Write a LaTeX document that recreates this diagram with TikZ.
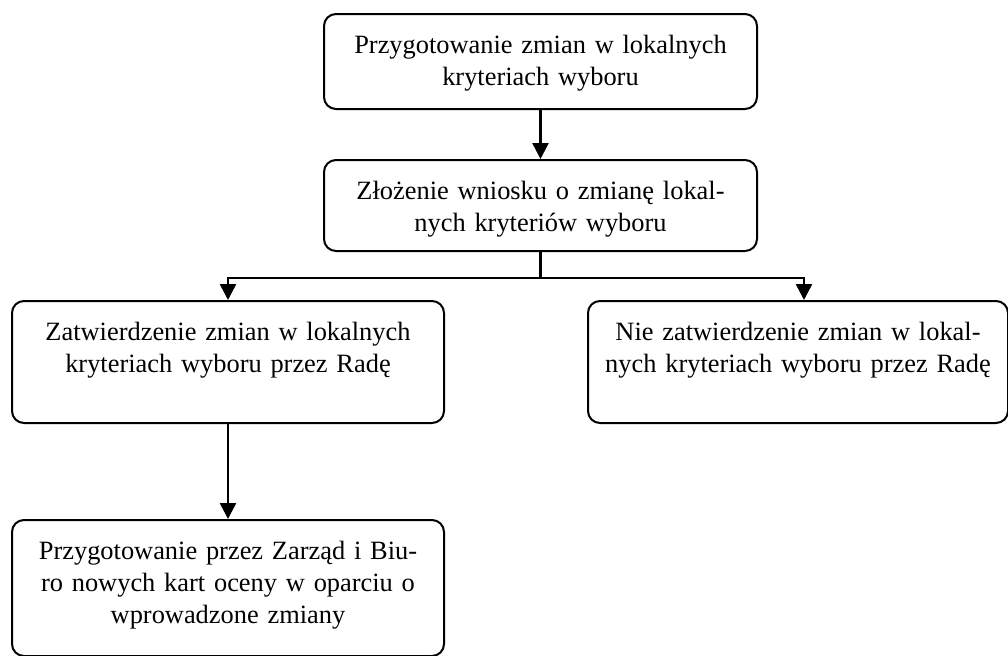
\documentclass[tikz,border=0pt]{standalone}
\usepackage{fontspec}
\setmainfont{Liberation Serif}
\usepackage{tikz}
\usetikzlibrary{arrows.meta, positioning}

\begin{document}
\begin{tikzpicture}[
    x=1pt, y=1pt,
    box/.style={rectangle, draw=black, line width=1pt, rounded corners=6pt, align=center, inner xsep=0pt, inner ysep=0pt, text height=19.5pt, font=\fontsize{13.2}{16}\selectfont},
    arrow/.style={-{Triangle[length=8pt, width=8pt]}, line width=1.25pt, black}
]
\useasboundingbox (0,0) rectangle (504,-327.5);

\node[box, text width=216.5pt, text depth=28pt, anchor=north west] (prep) at (161.5,-6.5) {Przygotowanie zmian w lokalnych\\kryteriach wyboru};
\node[box, text width=216.5pt, text depth=26pt, below=24.5pt of prep] (wniosek) {Złożenie wniosku o zmianę lokal-\\nych kryteriów wyboru};
\node[box, text width=216pt, text depth=41.5pt, anchor=north west] (zatw) at (5.5,-150) {Zatwierdzenie zmian w lokalnych\\kryteriach wyboru przez Radę};
\node[box, text width=210pt, text depth=41.5pt, anchor=north west] (niezatw) at (293.5,-150) {Nie zatwierdzenie zmian w lokal-\\nych kryteriach wyboru przez Radę};
\node[box, text width=216pt, text depth=48.5pt, below=47.5pt of zatw] (karty) {Przygotowanie przez Zarząd i Biu-\\ro nowych kart oceny w oparciu o\\wprowadzone zmiany};

\draw[arrow] (prep) -- (wniosek);
\draw[arrow] (wniosek.south) -- ++(0,-13) -| (zatw.north);
\draw[arrow] (wniosek.south) -- ++(0,-13) -| ([xshift=3pt]niezatw.north);
\draw[arrow] (zatw) -- (karty);

\end{tikzpicture}
\end{document}
